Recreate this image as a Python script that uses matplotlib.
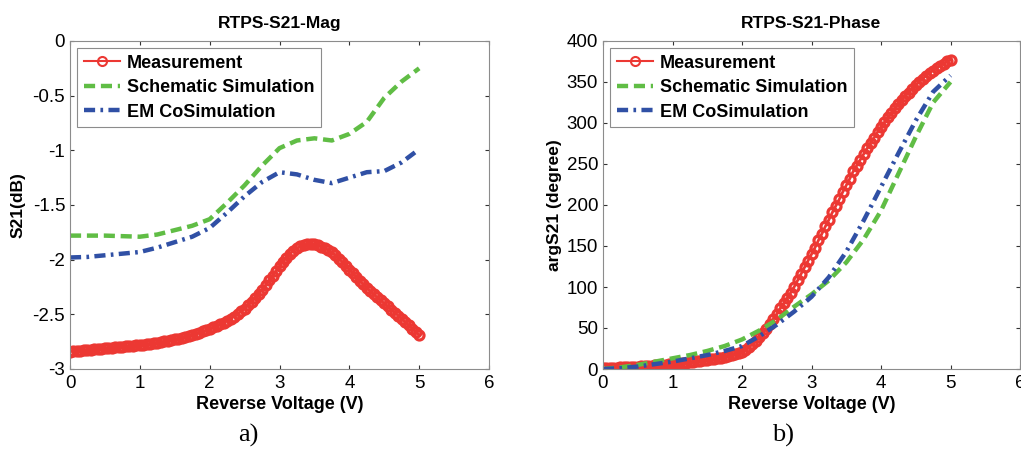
import numpy as np
import matplotlib
matplotlib.use('Agg')
import matplotlib.pyplot as plt
from matplotlib.ticker import FormatStrFormatter

plt.rcParams['font.family'] = ['Liberation Sans', 'DejaVu Sans']
plt.rcParams['axes.unicode_minus'] = False

# measurement sweep, 0.05 V step
v_meas = np.linspace(0, 5, 101)
mag_meas = [
    -2.840, -2.837, -2.834, -2.831, -2.828, -2.825, -2.822, -2.819, -2.816, -2.813,
    -2.810, -2.807, -2.804, -2.801, -2.798, -2.795, -2.792, -2.789, -2.786, -2.783,
    -2.780, -2.776, -2.772, -2.768, -2.764, -2.759, -2.754, -2.748, -2.742, -2.736,
    -2.730, -2.723, -2.715, -2.707, -2.698, -2.689, -2.679, -2.668, -2.657, -2.645,
    -2.633, -2.620, -2.606, -2.591, -2.575, -2.558, -2.540, -2.520, -2.498, -2.474,
    -2.448, -2.419, -2.387, -2.352, -2.314, -2.275, -2.233, -2.190, -2.146, -2.103,
    -2.060, -2.020, -1.982, -1.948, -1.918, -1.895, -1.877, -1.865, -1.858, -1.856,
    -1.860, -1.868, -1.880, -1.895, -1.912, -1.932, -1.960, -1.990, -2.022, -2.055,
    -2.090, -2.124, -2.158, -2.192, -2.225, -2.258, -2.288, -2.317, -2.345, -2.372,
    -2.400, -2.428, -2.456, -2.484, -2.512, -2.540, -2.570, -2.600, -2.630, -2.660,
    -2.690]
phase_meas = [
    1.0, 1.2, 1.4, 1.6, 1.8, 2.0, 2.2, 2.4, 2.6, 2.8,
    3.0, 3.3, 3.6, 3.9, 4.2, 4.5, 4.8, 5.1, 5.4, 5.7,
    6.0, 6.4, 6.8, 7.2, 7.7, 8.2, 8.7, 9.2, 9.8, 10.4,
    11.0, 11.7, 12.4, 13.2, 14.0, 14.9, 15.9, 17.0, 18.2, 19.5,
    21.0, 23.5, 26.5, 30.0, 34.0, 38.5, 43.5, 49.0, 55.0, 61.0,
    67.0, 74.0, 80.0, 86.5, 93.0, 100.0, 108.0, 116.0, 124.0, 132.0,
    140, 148, 157, 165, 174, 182, 191, 199, 207, 216,
    224, 232, 241, 248, 255, 262, 269, 276, 282, 289,
    295, 301, 307, 312, 318, 323, 328, 333, 337, 342,
    346, 350, 354, 357.5, 361, 364, 367, 370, 372.5, 375,
    377]

# simulations, 0.25 V step
v_sim = np.linspace(0, 5, 21)
mag_schem = [-1.78, -1.78, -1.78, -1.785, -1.79, -1.77, -1.73, -1.69, -1.63, -1.48, -1.32,
             -1.14, -0.98, -0.91, -0.89, -0.91, -0.85, -0.74, -0.52, -0.37, -0.25]
mag_em = [-1.98, -1.975, -1.96, -1.945, -1.93, -1.89, -1.84, -1.79, -1.71, -1.57, -1.42,
          -1.29, -1.20, -1.22, -1.27, -1.30, -1.25, -1.20, -1.19, -1.11, -0.99]
phase_schem = [0, 2, 5, 9, 13, 17, 22, 28, 36, 47, 60, 76, 91, 108, 130, 158, 193, 238, 283, 325, 350]
phase_em = [0, 1, 3, 6, 9, 13, 17, 22, 28, 40, 54, 70, 88, 112, 143, 181, 222, 263, 303, 338, 358]

labels = ['Measurement', 'Schematic Simulation', 'EM CoSimulation']
red, green, blue = '#ec3833', '#60bd45', '#3050a5'

fig = plt.figure(figsize=(10.21, 4.49), dpi=100)
ax1 = fig.add_axes([70/1021, 80/449, 419/1021, 328/449])
ax2 = fig.add_axes([603/1021, 80/449, 417/1021, 328/449])


def draw(ax, m, s, e):
    ax.plot(v_meas, m, '-o', color=red, lw=2, ms=6.5, mfc='none', mew=2.3, label=labels[0])
    ax.plot(v_sim, s, color=green, lw=3.2, dashes=(2.5, 1.3), label=labels[1])
    ax.plot(v_sim, e, color=blue, lw=3.2, dashes=(2.5, 1.2, 0.6, 1.2), label=labels[2])
    ax.set_xlim(0, 6)
    ax.set_xticks(range(7))
    ax.tick_params(direction='in', top=True, right=True, length=3, width=0.8,
                   labelsize=13.5, color='0.2')
    ax.tick_params(axis='x', pad=4)
    for sp in ax.spines.values():
        sp.set_color('0.55')
        sp.set_linewidth(0.8)
    ax.set_xlabel('Reverse Voltage (V)', fontsize=13, fontweight='bold', labelpad=3)
    leg = ax.legend(loc='upper left', prop={'weight': 'bold', 'size': 13},
                    fancybox=False, framealpha=1, edgecolor='0.55', handlelength=2.0,
                    handletextpad=0.4, labelspacing=0.42, borderpad=0.35, borderaxespad=0.4)
    leg.get_frame().set_linewidth(0.8)
    leg.legend_handles[0].set_markeredgewidth(1.5)
    leg.legend_handles[0].set_linewidth(1.5)


draw(ax1, mag_meas, mag_schem, mag_em)
ax1.set_ylim(-3, 0)
ax1.set_yticks(np.arange(-3, 0.01, 0.5))
ax1.yaxis.set_major_formatter(FormatStrFormatter('%g'))
ax1.set_ylabel('S21(dB)', fontsize=12.5, fontweight='bold', labelpad=5)
ax1.set_title('RTPS-S21-Mag', fontsize=12.5, fontweight='bold', pad=9)

draw(ax2, phase_meas, phase_schem, phase_em)
ax2.set_ylim(0, 400)
ax2.set_yticks(range(0, 401, 50))
ax2.set_ylabel('argS21 (degree)', fontsize=12.5, fontweight='bold', labelpad=3)
ax2.set_title('RTPS-S21-Phase', fontsize=12.5, fontweight='bold', pad=9)

fig.text(248/1021, 0.03, 'a)', fontsize=19, family='Liberation Serif', ha='center', va='center')
fig.text(783/1021, 0.03, 'b)', fontsize=19, family='Liberation Serif', ha='center', va='center')

fig.savefig('out.png', dpi=100)
